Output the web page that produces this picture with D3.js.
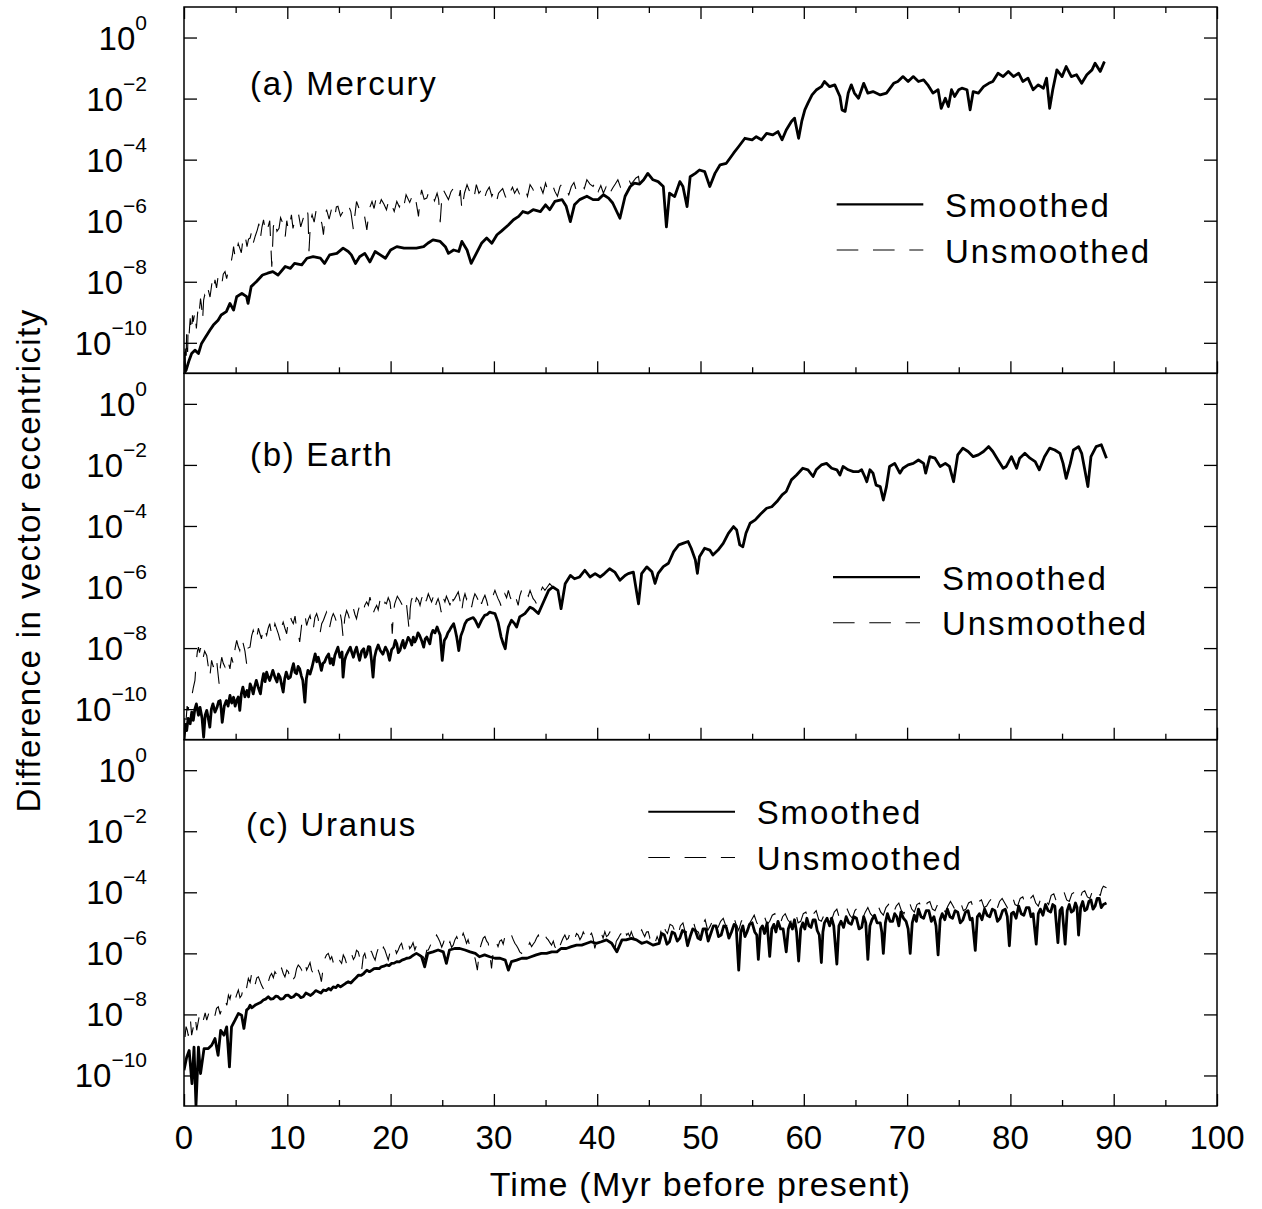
<!DOCTYPE html>
<html><head><meta charset="utf-8">
<script src="https://cdn.jsdelivr.net/npm/d3@7"></script>
<style>
html,body{margin:0;padding:0;background:#fff;}
svg{display:block;font-family:"Liberation Sans",Arial,Helvetica,sans-serif;}
</style></head><body>
<svg id="chart" width="1262" height="1209"></svg>
<script>
// ---------- tick labels / texts ----------
const xTickValues = [0,10,20,30,40,50,60,70,80,90,100];
const xMinorTickValues = [5,15,25,35,45,55,65,75,85,95];
const yTickExponents = [0,-2,-4,-6,-8,-10];
const yDomain = [1e-11, 1e1];
const panelLabels = ["(a) Mercury","(b) Earth","(c) Uranus"];
const legendLabels = ["Smoothed","Unsmoothed"];
const xTitle = "Time (Myr before present)";
const yTitle = "Difference in vector eccentricity";

// ---------- data: [time (Myr), log10(difference)] ----------
const mercurySmoothed = [[0,-11.0],[0.2,-10.9],[0.5,-10.57],[0.74,-10.35],[1.06,-10.24],[1.4,-10.35],[1.7,-10.02],[2.0,-9.86],[2.5,-9.59],[2.84,-9.42],[3.3,-9.26],[3.6,-9.09],[4.1,-8.98],[4.45,-8.71],[4.8,-8.93],[5.1,-8.49],[5.6,-8.38],[6.06,-8.49],[6.2,-8.71],[6.5,-8.16],[7.0,-8.0],[7.6,-7.78],[8.1,-7.72],[8.6,-7.67],[9.1,-7.78],[9.8,-7.50],[10.3,-7.56],[10.7,-7.40],[11.4,-7.45],[11.9,-7.23],[12.5,-7.18],[13.2,-7.23],[13.6,-7.40],[14.1,-7.12],[14.8,-7.07],[15.4,-6.90],[15.9,-7.01],[16.2,-7.12],[16.6,-7.40],[17.0,-7.18],[17.5,-7.07],[18.0,-7.35],[18.5,-7.01],[19.0,-7.12],[19.5,-7.23],[20.0,-6.96],[20.6,-6.85],[21.3,-6.90],[21.9,-6.90],[22.5,-6.90],[23.2,-6.85],[23.6,-6.74],[24.1,-6.63],[24.8,-6.68],[25.3,-6.85],[25.6,-7.07],[26.1,-6.96],[26.6,-7.01],[26.9,-6.68],[27.4,-6.96],[27.8,-7.40],[28.3,-7.07],[28.8,-6.74],[29.3,-6.57],[29.8,-6.74],[30.3,-6.46],[30.7,-6.35],[31.4,-6.14],[31.9,-5.97],[32.4,-5.86],[32.8,-5.70],[33.3,-5.75],[33.8,-5.64],[34.5,-5.70],[35.0,-5.48],[35.4,-5.64],[35.9,-5.37],[36.6,-5.31],[37.0,-5.53],[37.4,-6.03],[37.8,-5.48],[38.3,-5.31],[39.0,-5.20],[39.6,-5.31],[40.1,-5.31],[40.6,-5.15],[41.1,-5.26],[41.5,-5.42],[42.2,-5.92],[42.7,-5.20],[43.2,-4.88],[43.6,-4.77],[44.1,-4.80],[44.5,-4.66],[44.9,-4.45],[45.4,-4.66],[45.9,-4.72],[46.4,-4.88],[46.7,-6.20],[47.0,-5.10],[47.5,-5.21],[48.0,-4.72],[48.3,-4.88],[48.7,-5.54],[49.0,-4.56],[49.5,-4.45],[49.9,-4.34],[50.4,-4.39],[50.9,-4.88],[51.4,-4.45],[51.9,-4.17],[52.5,-4.12],[53.2,-3.79],[53.7,-3.57],[54.3,-3.30],[55.0,-3.35],[55.4,-3.25],[55.9,-3.35],[56.4,-3.14],[57.0,-3.19],[57.5,-3.08],[57.9,-3.35],[58.3,-3.03],[58.8,-2.75],[59.1,-2.64],[59.5,-3.30],[59.8,-2.75],[60.1,-2.37],[60.4,-2.15],[60.8,-1.88],[61.2,-1.72],[61.7,-1.61],[62.0,-1.44],[62.5,-1.61],[63.0,-1.55],[63.5,-1.93],[63.7,-2.37],[64.0,-2.42],[64.3,-1.82],[64.6,-1.55],[64.9,-1.82],[65.3,-1.99],[65.8,-1.50],[66.2,-1.82],[66.7,-1.77],[67.4,-1.88],[68.0,-1.82],[68.7,-1.50],[69.1,-1.44],[69.6,-1.28],[70.1,-1.44],[70.6,-1.28],[71.1,-1.44],[71.6,-1.39],[72.0,-1.55],[72.5,-1.82],[73.0,-1.71],[73.3,-2.32],[73.7,-1.99],[74.0,-2.26],[74.3,-1.71],[74.6,-1.93],[75.0,-1.71],[75.3,-1.66],[75.8,-1.71],[76.1,-2.37],[76.4,-1.77],[76.9,-1.82],[77.4,-1.61],[77.9,-1.50],[78.3,-1.44],[78.8,-1.17],[79.3,-1.28],[79.8,-1.11],[80.3,-1.28],[80.8,-1.17],[81.2,-1.44],[81.7,-1.33],[82.2,-1.71],[82.7,-1.55],[83.2,-1.66],[83.5,-1.33],[83.8,-2.32],[84.1,-1.71],[84.5,-1.06],[85.0,-1.28],[85.4,-0.95],[85.9,-1.28],[86.4,-1.22],[86.9,-1.50],[87.4,-1.22],[87.9,-1.06],[88.2,-0.84],[88.7,-1.11],[89.1,-0.79]];

const mercuryUnsmoothedEarly = [[0,-11.0],[0.05,-10.2],[0.1,-10.0],[0.15,-10.9],[0.2,-10.8],[0.25,-9.7],[0.3,-9.9],[0.35,-10.3],[0.4,-9.48],[0.5,-9.7],[0.6,-9.2],[0.67,-9.45],[0.74,-9.64],[0.82,-9.1],[0.9,-9.31],[1.05,-9.0],[1.2,-9.53],[1.3,-9.1],[1.4,-8.71],[1.5,-8.9],[1.6,-8.55],[1.7,-8.8],[1.8,-9.26],[1.9,-8.6],[2.0,-8.44],[2.17,-8.6],[2.35,-8.27],[2.52,-8.5],[2.7,-8.05],[2.85,-8.3],[3.0,-7.94],[3.15,-8.2],[3.3,-7.83],[3.47,-7.95],[3.65,-8.11],[3.8,-7.75],[3.97,-7.67],[4.13,-7.9],[4.3,-7.61],[4.45,-7.45],[4.6,-7.29],[4.7,-7.1],[4.8,-6.85],[4.95,-7.2],[5.1,-7.01],[5.25,-6.75],[5.4,-6.90],[5.55,-7.05],[5.7,-6.63],[5.9,-6.45],[6.1,-6.85],[6.25,-6.6],[6.4,-6.57],[6.55,-6.35],[6.7,-6.74],[6.9,-6.5],[7.1,-6.30],[7.25,-6.1],[7.4,-6.57],[7.55,-6.2],[7.7,-5.97],[7.9,-6.4],[8.1,-6.25],[8.3,-6.0],[8.5,-7.51],[8.65,-6.2],[8.8,-5.97],[9.0,-6.35],[9.2,-6.25],[9.35,-5.9],[9.5,-6.03],[9.65,-6.3],[9.8,-6.52],[9.95,-6.0],[10.1,-6.30],[10.25,-6.1],[10.4,-5.81],[10.55,-6.25],[10.7,-6.03],[10.9,-5.75],[11.1,-5.81],[11.3,-6.2],[11.5,-5.97],[11.7,-5.75],[11.9,-5.59],[12.0,-5.8],[12.1,-7.0],[12.25,-6.0],[12.4,-5.81],[12.6,-6.05],[12.8,-5.64],[13.0,-5.8],[13.2,-5.92],[13.35,-6.1],[13.5,-6.46],[13.65,-5.9],[13.8,-5.64],[14.05,-5.95],[14.3,-5.59],[14.45,-5.75],[14.6,-5.86],[14.75,-5.55],[14.9,-5.53],[15.15,-5.85],[15.4,-5.70],[15.65,-5.45],[15.9,-5.48],[16.15,-5.7],[16.4,-6.30],[16.55,-5.8],[16.7,-5.37],[16.95,-5.6],[17.2,-5.53],[17.45,-5.8],[17.7,-6.30],[17.95,-5.6],[18.2,-5.37],[18.4,-5.6],[18.6,-5.26],[18.85,-5.55],[19.1,-5.31],[19.35,-5.45],[19.6,-5.64],[19.85,-5.3],[20.1,-5.48],[20.35,-5.7],[20.6,-5.37],[20.85,-5.55],[21.1,-5.31],[21.3,-5.5],[21.5,-5.15],[21.85,-5.4],[22.2,-5.10],[22.45,-5.35],[22.7,-5.86],[22.85,-5.3],[23.0,-4.99],[23.25,-5.3],[23.5,-5.26],[23.75,-5.0],[24.0,-5.10],[24.25,-5.35],[24.5,-5.10],[24.65,-5.3],[24.8,-6.05],[24.95,-5.3],[25.1,-4.99],[25.35,-5.15],[25.6,-5.31],[25.85,-5.05],[26.1,-4.93],[26.35,-5.15],[26.6,-5.26],[26.75,-5.0],[26.9,-5.64],[27.15,-5.1],[27.4,-4.82],[27.6,-5.0],[27.8,-5.10],[28.05,-5.3],[28.3,-4.82],[28.55,-5.1],[28.8,-4.99],[29.05,-5.3],[29.3,-5.04],[29.55,-4.9],[29.8,-5.20],[30.05,-5.0],[30.3,-5.31],[30.45,-5.1],[30.6,-5.04],[30.85,-4.95],[31.1,-5.20],[31.35,-5.35],[31.6,-5.04],[31.8,-4.9],[32.0,-5.10],[32.25,-4.95],[32.5,-5.15],[32.75,-5.05],[33.0,-4.93],[33.25,-5.2],[33.5,-4.82],[33.75,-4.95],[34.0,-5.15],[34.25,-4.95],[34.5,-4.88],[34.75,-5.1],[35.0,-4.77],[35.2,-5.0],[35.4,-4.93],[35.65,-4.8],[35.9,-5.04],[36.15,-5.2],[36.4,-4.88],[36.7,-4.75],[37.0,-4.99],[37.25,-5.15],[37.5,-4.88],[37.75,-4.75],[38.0,-5.04],[38.25,-4.9],[38.5,-4.82],[38.75,-4.95],[39.0,-4.66],[39.3,-4.8],[39.6,-4.88],[39.85,-4.7],[40.1,-5.04],[40.35,-4.85],[40.6,-5.10],[40.85,-4.9],[41.1,-5.20],[41.3,-5.05],[41.5,-4.93],[41.75,-4.8],[42.0,-4.66],[42.25,-4.9],[42.5,-4.77],[42.75,-4.65],[43.0,-4.60],[43.25,-4.8],[43.5,-4.71],[43.75,-4.6],[44.0,-4.55]];

const earthSmoothed = [[0,-11.0],[0.13,-10.5],[0.26,-10.70],[0.4,-10.3],[0.6,-10.48],[0.75,-10.1],[0.9,-10.37],[1.05,-10.0],[1.2,-9.83],[1.4,-10.2],[1.55,-9.94],[1.75,-10.3],[1.9,-10.92],[2.05,-10.2],[2.2,-10.04],[2.35,-10.3],[2.5,-10.59],[2.65,-10.0],[2.8,-9.83],[3.0,-10.1],[3.2,-9.94],[3.35,-9.75],[3.5,-9.72],[3.6,-10.0],[3.7,-10.43],[3.9,-9.9],[4.1,-9.72],[4.27,-9.9],[4.45,-9.55],[4.62,-9.8],[4.8,-9.61],[4.95,-9.9],[5.1,-9.72],[5.25,-9.6],[5.4,-10.04],[5.55,-9.5],[5.7,-9.28],[5.9,-9.6],[6.1,-9.39],[6.25,-9.6],[6.4,-9.17],[6.55,-9.3],[6.7,-9.50],[6.85,-9.25],[7.0,-9.06],[7.2,-9.3],[7.4,-9.50],[7.55,-9.1],[7.7,-8.84],[7.85,-9.1],[8.0,-8.79],[8.15,-8.95],[8.3,-9.06],[8.45,-8.9],[8.6,-8.73],[8.8,-8.95],[9.0,-9.11],[9.15,-8.85],[9.3,-8.95],[9.45,-9.2],[9.6,-9.44],[9.75,-9.0],[9.9,-8.79],[10.1,-9.0],[10.3,-8.95],[10.45,-8.7],[10.6,-8.51],[10.75,-8.8],[10.9,-8.84],[11.05,-8.6],[11.2,-8.68],[11.35,-8.9],[11.5,-9.06],[11.6,-9.4],[11.7,-9.77],[11.85,-9.0],[12.0,-8.73],[12.2,-8.85],[12.4,-8.62],[12.55,-8.4],[12.7,-8.19],[12.85,-8.45],[13.0,-8.30],[13.15,-8.5],[13.3,-8.73],[13.45,-8.5],[13.6,-8.46],[13.8,-8.3],[14.0,-8.19],[14.15,-8.5],[14.3,-8.35],[14.45,-8.55],[14.6,-8.24],[14.75,-8.1],[14.9,-7.97],[15.1,-8.3],[15.3,-8.13],[15.35,-8.6],[15.4,-8.95],[15.55,-8.4],[15.7,-8.24],[15.9,-8.1],[16.1,-7.97],[16.25,-8.15],[16.4,-8.30],[16.55,-8.1],[16.7,-7.97],[16.85,-8.2],[17.0,-8.40],[17.2,-8.1],[17.4,-8.02],[17.55,-8.3],[17.7,-8.19],[17.85,-7.95],[18.0,-7.97],[18.15,-8.4],[18.3,-8.95],[18.45,-8.3],[18.6,-8.08],[18.8,-7.9],[19.0,-8.08],[19.25,-8.2],[19.5,-7.97],[19.7,-8.1],[19.9,-8.40],[20.1,-8.05],[20.3,-7.97],[20.45,-7.75],[20.6,-7.86],[20.75,-8.15],[20.9,-8.08],[21.05,-7.9],[21.2,-7.75],[21.35,-8.0],[21.5,-7.86],[21.7,-7.65],[21.9,-7.75],[22.05,-7.9],[22.2,-7.64],[22.35,-7.8],[22.5,-7.69],[22.65,-7.5],[22.8,-7.58],[23.0,-7.75],[23.2,-7.97],[23.35,-7.7],[23.5,-7.64],[23.65,-7.75],[23.8,-7.86],[23.95,-7.55],[24.1,-7.42],[24.3,-7.5],[24.5,-7.31],[24.65,-7.45],[24.8,-7.58],[25.0,-8.40],[25.2,-7.75],[25.4,-7.64],[25.55,-7.5],[25.7,-7.42],[25.9,-7.3],[26.1,-7.20],[26.25,-7.4],[26.4,-7.64],[26.6,-8.08],[26.8,-7.6],[27.0,-7.42],[27.2,-7.2],[27.4,-7.09],[27.7,-7.04],[28.0,-7.0],[28.2,-7.09],[28.5,-7.31],[28.8,-7.09],[29.1,-6.93],[29.35,-6.9],[29.6,-6.82],[29.85,-6.85],[30.1,-6.87],[30.4,-7.15],[30.7,-7.64],[30.9,-7.85],[31.1,-8.02],[31.25,-7.6],[31.4,-7.31],[31.7,-7.09],[32.0,-7.2],[32.2,-7.31],[32.5,-6.98],[33.0,-6.87],[33.5,-6.66],[33.8,-6.71],[34.3,-6.87],[34.8,-6.49],[35.3,-6.11],[35.7,-6.00],[36.2,-6.11],[36.5,-6.71],[36.9,-5.89],[37.4,-5.62],[37.8,-5.73],[38.3,-5.67],[38.8,-5.45],[39.3,-5.67],[39.8,-5.56],[40.3,-5.67],[40.7,-5.56],[41.2,-5.40],[41.7,-5.51],[42.2,-5.78],[42.7,-5.62],[43.0,-5.56],[43.5,-5.51],[44.0,-6.55],[44.3,-5.56],[44.8,-5.34],[45.3,-5.50],[45.6,-5.88],[45.9,-5.55],[46.4,-5.33],[46.9,-5.22],[47.4,-4.84],[47.9,-4.62],[48.3,-4.57],[48.8,-4.51],[49.1,-4.73],[49.5,-5.11],[49.7,-5.55],[49.9,-5.01],[50.4,-4.73],[50.9,-4.79],[51.2,-4.95],[51.7,-4.79],[52.2,-4.57],[52.7,-4.24],[53.2,-4.02],[53.5,-4.13],[53.8,-4.62],[54.1,-4.68],[54.4,-4.24],[54.8,-3.91],[55.3,-3.80],[55.6,-3.69],[55.9,-3.58],[56.4,-3.42],[56.9,-3.37],[57.4,-3.20],[57.9,-2.98],[58.3,-2.87],[58.8,-2.49],[59.3,-2.33],[59.9,-2.11],[60.4,-2.16],[60.9,-2.38],[61.2,-2.16],[61.7,-2.00],[62.2,-1.95],[62.7,-2.11],[63.2,-2.16],[63.5,-2.33],[63.8,-2.05],[64.3,-2.16],[64.8,-2.22],[65.3,-2.22],[65.6,-2.16],[65.9,-2.38],[66.1,-2.55],[66.4,-2.16],[66.7,-2.27],[67.0,-2.66],[67.4,-2.71],[67.7,-3.15],[68.0,-2.71],[68.3,-2.05],[68.8,-1.95],[69.3,-2.27],[69.6,-2.11],[70.1,-2.00],[70.6,-1.95],[71.1,-1.84],[71.6,-1.95],[71.8,-2.27],[72.2,-1.73],[72.7,-1.78],[73.2,-2.05],[73.7,-1.95],[74.1,-2.05],[74.5,-2.55],[74.9,-1.67],[75.4,-1.45],[75.9,-1.56],[76.4,-1.73],[76.9,-1.67],[77.4,-1.56],[77.9,-1.40],[78.3,-1.56],[78.8,-1.84],[79.3,-2.11],[79.6,-2.05],[80.1,-1.73],[80.6,-2.11],[80.9,-1.78],[81.4,-1.62],[81.9,-1.78],[82.4,-1.89],[82.8,-2.16],[83.3,-1.73],[83.8,-1.45],[84.3,-1.51],[84.8,-1.62],[85.1,-1.95],[85.4,-2.44],[85.8,-1.95],[86.1,-1.51],[86.6,-1.40],[86.9,-1.62],[87.2,-2.16],[87.5,-2.71],[87.8,-1.73],[88.3,-1.40],[88.8,-1.34],[89.3,-1.78]];

const earthUnsmoothedEarly = [[0,-11.0],[0.1,-10.1],[0.2,-10.37],[0.3,-9.9],[0.4,-10.04],[0.55,-9.7],[0.74,-9.61],[0.9,-9.3],[1.06,-9.06],[1.13,-8.7],[1.2,-8.40],[1.3,-8.1],[1.4,-7.97],[1.5,-8.15],[1.6,-8.0],[1.7,-8.2],[1.8,-8.40],[2.0,-8.1],[2.2,-8.24],[2.35,-8.6],[2.5,-8.95],[2.67,-8.4],[2.84,-8.62],[3.0,-8.3],[3.16,-8.40],[3.28,-8.8],[3.4,-9.17],[3.52,-8.6],[3.65,-8.30],[3.8,-8.5],[3.97,-8.62],[4.2,-8.35],[4.45,-8.68],[4.6,-8.3],[4.77,-8.51],[4.95,-8.0],[5.1,-7.75],[5.25,-7.95],[5.4,-8.08],[5.57,-7.7],[5.74,-7.86],[5.9,-8.1],[6.06,-8.51],[6.2,-8.0],[6.39,-7.97],[6.55,-7.6],[6.7,-7.42],[6.85,-7.6],[7.0,-7.75],[7.2,-7.35],[7.35,-7.53],[7.5,-7.7],[7.68,-7.31],[7.85,-7.45],[8.0,-7.58],[8.15,-7.35],[8.3,-7.20],[8.5,-7.6],[8.65,-7.48],[8.8,-7.2],[8.97,-7.37],[9.15,-7.55],[9.3,-7.75],[9.45,-7.3],[9.6,-7.15],[9.77,-7.35],[9.94,-7.53],[10.1,-7.1],[10.26,-6.93],[10.42,-7.1],[10.58,-7.20],[10.75,-6.95],[10.9,-7.37],[11.05,-7.5],[11.2,-7.80],[11.4,-7.2],[11.55,-7.04],[11.7,-6.9],[11.87,-7.26],[12.05,-7.05],[12.2,-6.93],[12.35,-7.2],[12.5,-7.42],[12.67,-7.0],[12.84,-6.87],[13.0,-7.05],[13.16,-7.53],[13.33,-7.2],[13.5,-7.09],[13.65,-6.95],[13.8,-6.82],[13.95,-7.05],[14.1,-7.31],[14.3,-7.0],[14.45,-6.87],[14.6,-6.98],[14.77,-7.15],[14.95,-6.95],[15.1,-6.82],[15.25,-7.1],[15.4,-7.64],[15.57,-7.0],[15.74,-6.77],[15.9,-6.9],[16.06,-7.09],[16.23,-6.85],[16.4,-6.71],[16.55,-6.9],[16.7,-7.04],[16.85,-6.8],[17.0,-6.60],[17.2,-6.7],[17.35,-6.82],[17.5,-6.6],[17.68,-6.49],[17.85,-6.6],[18.0,-6.33],[18.15,-6.55],[18.3,-6.87],[18.5,-6.7],[18.65,-6.60],[18.8,-6.75],[18.97,-6.44],[19.15,-6.55],[19.3,-6.71],[19.45,-6.5],[19.6,-6.55],[19.77,-6.35],[19.94,-6.49],[20.05,-6.8],[20.16,-7.53],[20.28,-6.8],[20.4,-6.55],[20.65,-6.3],[20.9,-6.44],[21.15,-6.6],[21.4,-6.38],[21.55,-6.6],[21.7,-7.09],[21.8,-7.42],[21.9,-6.7],[22.0,-6.44],[22.17,-6.3],[22.35,-6.60],[22.5,-6.35],[22.7,-6.44],[22.85,-6.6],[23.0,-6.38],[23.15,-6.25],[23.3,-6.55],[23.5,-6.4],[23.65,-6.22],[23.8,-6.35],[23.97,-6.49],[24.15,-6.3],[24.3,-6.66],[24.45,-6.5],[24.6,-6.38],[24.75,-6.55],[24.9,-6.82],[25.1,-6.35],[25.26,-6.49],[25.4,-6.3],[25.58,-6.44],[25.75,-6.6],[25.9,-6.22],[26.05,-6.45],[26.2,-6.38],[26.4,-6.25],[26.55,-6.16],[26.7,-6.4],[26.87,-6.82],[27.05,-6.4],[27.2,-6.22],[27.35,-6.4],[27.5,-6.27],[27.7,-6.4],[27.84,-6.66],[28.0,-6.4],[28.16,-6.22],[28.3,-6.3],[28.5,-6.44],[28.65,-6.25],[28.8,-6.55],[28.95,-6.4],[29.13,-6.27],[29.3,-6.45],[29.45,-6.66],[29.6,-6.45],[29.77,-6.38],[29.95,-6.25],[30.1,-6.11],[30.25,-6.25],[30.4,-6.38],[30.57,-6.5],[30.74,-6.66],[30.9,-6.4],[31.06,-6.22],[31.23,-6.35],[31.4,-6.11],[31.55,-6.3],[31.7,-6.44],[31.85,-6.3],[32.0,-6.22],[32.17,-6.4],[32.35,-6.60],[32.5,-6.3],[32.68,-6.11],[32.9,-6.35],[33.16,-6.22],[33.33,-6.3],[33.5,-6.11],[33.65,-6.25],[33.8,-6.38],[33.97,-6.45],[34.13,-6.55],[34.3,-6.35],[34.45,-6.22],[34.7,-6.0],[34.94,-6.11],[35.17,-6.0],[35.4,-5.89]];

const uranusSmoothed = [[0,-9.83],[0.26,-9.40],[0.5,-9.18],[0.77,-10.27],[0.97,-9.07],[1.16,-10.98],[1.4,-9.07],[1.6,-9.94],[1.94,-9.12],[2.35,-9.12],[2.68,-9.01],[3.0,-8.79],[3.3,-9.34],[3.55,-8.52],[3.87,-8.68],[4.13,-8.41],[4.4,-9.72],[4.6,-8.41],[4.94,-8.19],[5.26,-7.97],[5.58,-8.03],[5.8,-8.46],[6.06,-7.86],[6.25,-7.8],[6.4,-7.70],[6.55,-7.78],[6.7,-7.75],[6.95,-7.68],[7.2,-7.64],[7.45,-7.6],[7.68,-7.53],[7.9,-7.5],[8.16,-7.42],[8.4,-7.5],[8.65,-7.48],[8.9,-7.4],[9.1,-7.42],[9.35,-7.5],[9.6,-7.48],[9.85,-7.38],[10.1,-7.37],[10.35,-7.45],[10.6,-7.42],[10.85,-7.33],[11.1,-7.37],[11.3,-7.45],[11.55,-7.42],[11.8,-7.3],[12.03,-7.34],[12.25,-7.38],[12.5,-7.31],[12.75,-7.22],[13.0,-7.26],[13.25,-7.3],[13.5,-7.20],[13.75,-7.22],[14.0,-7.15],[14.2,-7.2],[14.45,-7.10],[14.7,-7.12],[14.9,-7.04],[15.15,-7.1],[15.4,-7.04],[15.65,-6.98],[15.9,-6.93],[16.15,-6.97],[16.4,-6.88],[16.65,-6.8],[16.9,-6.71],[17.15,-6.72],[17.4,-6.66],[17.55,-6.6],[17.7,-6.55],[17.95,-6.6],[18.2,-6.55],[18.4,-6.5],[18.65,-6.49],[18.9,-6.5],[19.1,-6.44],[19.35,-6.42],[19.6,-6.38],[19.85,-6.4],[20.1,-6.33],[20.35,-6.32],[20.6,-6.27],[20.85,-6.28],[21.1,-6.22],[21.3,-6.2],[21.55,-6.16],[21.8,-6.15],[22.0,-6.11],[22.25,-6.05],[22.5,-6.00],[22.75,-6.05],[23.0,-6.11],[23.3,-6.44],[23.6,-6.00],[24.1,-5.95],[24.6,-5.89],[25.1,-5.95],[25.4,-6.33],[25.7,-5.89],[26.2,-5.84],[26.7,-5.84],[27.2,-5.89],[27.7,-5.95],[28.2,-6.00],[28.6,-6.11],[29.1,-6.05],[29.6,-6.11],[30.1,-6.16],[30.6,-6.16],[31.1,-6.22],[31.4,-6.55],[31.7,-6.27],[32.2,-6.22],[32.7,-6.16],[33.2,-6.16],[33.6,-6.11],[34.1,-6.05],[34.6,-6.00],[35.1,-6.00],[35.6,-5.95],[36.1,-5.95],[36.5,-5.84],[37.0,-5.84],[37.5,-5.78],[38.0,-5.73],[38.5,-5.73],[39.0,-5.67],[39.4,-5.62],[39.9,-5.67],[40.4,-5.62],[40.9,-5.56],[41.4,-5.67],[41.9,-5.95],[42.4,-5.56],[42.8,-5.56],[43.3,-5.51],[43.8,-5.56],[44.3,-5.67],[44.8,-5.62],[45.4,-5.73],[46.0,-5.67],[46.25,-5.35],[46.5,-5.40],[46.75,-5.7],[47.0,-5.62],[47.25,-5.3],[47.5,-5.35],[47.75,-5.6],[48.0,-5.50],[48.25,-5.25],[48.5,-5.30],[48.75,-5.75],[49.0,-5.45],[49.25,-5.2],[49.5,-5.25],[49.75,-5.5],[50.0,-5.55],[50.25,-5.2],[50.5,-5.20],[50.75,-5.6],[51.0,-5.35],[51.25,-5.1],[51.5,-5.10],[51.75,-5.45],[52.0,-5.40],[52.25,-5.1],[52.5,-5.15],[52.75,-5.5],[53.0,-5.30],[53.25,-5.05],[53.45,-5.1],[53.7,-6.55],[53.9,-5.3],[54.1,-5.10],[54.3,-5.45],[54.5,-5.30],[54.75,-5.05],[55.0,-5.00],[55.25,-5.3],[55.45,-5.40],[55.6,-6.20],[55.8,-5.2],[56.0,-5.10],[56.2,-5.35],[56.45,-5.00],[56.7,-6.10],[56.9,-5.2],[57.1,-5.05],[57.3,-5.3],[57.5,-4.95],[57.75,-5.2],[58.0,-5.20],[58.3,-5.95],[58.5,-5.2],[58.7,-5.00],[58.9,-5.2],[59.1,-4.90],[59.3,-5.3],[59.5,-6.25],[59.7,-5.2],[59.9,-5.00],[60.1,-5.2],[60.3,-4.85],[60.5,-5.1],[60.7,-5.15],[60.9,-4.9],[61.1,-4.90],[61.3,-5.25],[61.5,-5.4],[61.7,-6.30],[61.85,-5.3],[62.0,-5.00],[62.25,-4.85],[62.5,-5.1],[62.7,-4.85],[62.9,-5.10],[63.2,-6.35],[63.4,-5.1],[63.6,-4.95],[63.85,-5.15],[64.1,-4.80],[64.35,-5.0],[64.6,-5.05],[64.85,-4.8],[65.1,-4.85],[65.35,-5.2],[65.6,-5.15],[65.8,-4.8],[66.0,-5.0],[66.2,-6.20],[66.4,-5.1],[66.6,-4.90],[66.85,-4.75],[67.1,-5.0],[67.4,-5.00],[67.55,-5.3],[67.7,-6.00],[67.9,-5.0],[68.1,-4.70],[68.35,-4.95],[68.6,-4.95],[68.8,-4.7],[69.0,-4.80],[69.2,-5.1],[69.4,-4.65],[69.65,-4.85],[69.9,-4.95],[70.1,-5.2],[70.3,-6.00],[70.5,-5.0],[70.7,-4.75],[70.9,-4.95],[71.1,-4.55],[71.35,-4.8],[71.6,-4.85],[71.85,-4.6],[72.1,-4.60],[72.35,-4.95],[72.6,-4.80],[72.8,-5.1],[73.0,-6.05],[73.2,-4.9],[73.4,-4.70],[73.65,-4.9],[73.9,-4.55],[74.15,-4.8],[74.4,-4.85],[74.65,-4.6],[74.9,-4.65],[75.15,-5.0],[75.4,-4.90],[75.65,-4.65],[75.9,-4.60],[76.1,-4.9],[76.3,-4.85],[76.6,-5.90],[76.8,-4.8],[77.0,-4.70],[77.25,-4.9],[77.5,-4.55],[77.75,-4.75],[78.0,-4.80],[78.25,-4.55],[78.5,-4.60],[78.75,-4.95],[79.0,-4.85],[79.25,-4.6],[79.5,-4.55],[79.7,-4.8],[79.9,-5.75],[80.1,-4.7],[80.3,-4.65],[80.55,-4.85],[80.8,-4.45],[81.05,-4.7],[81.3,-4.75],[81.55,-4.5],[81.8,-4.50],[82.0,-4.8],[82.2,-4.70],[82.5,-5.70],[82.7,-4.7],[82.9,-4.55],[83.15,-4.75],[83.4,-4.40],[83.65,-4.6],[83.9,-4.65],[84.1,-4.4],[84.3,-4.45],[84.6,-5.65],[84.8,-4.6],[85.0,-4.50],[85.3,-5.70],[85.5,-4.6],[85.7,-4.40],[85.9,-4.65],[86.1,-4.60],[86.3,-4.35],[86.45,-4.5],[86.6,-5.40],[86.8,-4.5],[87.0,-4.30],[87.2,-4.6],[87.4,-4.55],[87.6,-4.3],[87.8,-4.25],[88.0,-4.55],[88.2,-4.45],[88.4,-4.2],[88.6,-4.20],[88.8,-4.5],[89.0,-4.40],[89.3,-4.35]];

const uranusUnsmoothed = [[0.1,-8.74],[0.2,-8.4],[0.32,-8.52],[0.42,-8.7],[0.52,-8.41],[0.63,-8.2],[0.74,-8.68],[0.85,-8.5],[0.97,-8.30],[1.1,-8.1],[1.23,-8.52],[1.4,-8.2],[1.55,-7.92],[1.7,-8.0],[1.87,-8.19],[2.05,-7.95],[2.2,-8.19],[2.45,-7.9],[2.68,-7.86],[2.85,-8.1],[3.0,-8.03],[3.15,-7.8],[3.32,-7.75],[3.5,-8.0],[3.65,-7.81],[3.8,-7.6],[3.97,-7.53],[4.15,-7.7],[4.3,-7.37],[4.45,-7.5],[4.6,-7.26],[4.75,-7.3],[4.94,-7.53],[5.1,-7.35],[5.26,-7.20],[5.42,-7.45],[5.58,-7.37],[5.75,-7.1],[5.9,-6.99],[6.05,-7.15],[6.23,-6.82],[6.4,-6.95],[6.55,-6.66],[6.7,-6.85],[6.87,-7.04],[7.05,-6.8],[7.2,-6.77],[7.35,-6.9],[7.5,-7.04],[7.67,-7.15],[7.84,-7.26],[8.0,-7.05],[8.16,-6.93],[8.32,-6.75],[8.48,-6.66],[8.65,-6.8],[8.8,-6.60],[8.97,-6.7],[9.13,-6.82],[9.3,-6.6],[9.45,-6.49],[9.6,-6.65],[9.77,-6.77],[9.95,-6.55],[10.1,-6.60],[10.25,-6.8],[10.4,-6.99],[10.57,-6.85],[10.74,-6.77],[10.9,-6.5],[11.06,-6.38],[11.23,-6.45],[11.4,-6.55],[11.55,-6.35],[11.7,-6.27],[11.87,-6.55],[12.03,-6.44],[12.2,-6.3],[12.35,-6.55],[12.5,-6.65],[12.68,-6.71],[12.85,-6.45],[13.0,-6.55],[13.15,-6.7],[13.3,-6.93],[13.5,-6.4],[13.65,-6.16],[13.8,-6.05],[13.97,-6.00],[14.15,-6.2],[14.3,-6.11],[14.45,-6.3],[14.6,-6.27],[14.77,-6.05],[14.94,-6.11],[15.1,-6.25],[15.26,-6.33],[15.42,-6.05],[15.58,-6.16],[15.75,-6.35],[15.9,-6.27],[16.05,-6.1],[16.2,-6.00],[16.4,-6.2],[16.55,-6.11],[16.7,-5.9],[16.87,-5.95],[17.05,-6.2],[17.2,-6.55],[17.35,-6.1],[17.5,-6.00],[17.67,-6.25],[17.84,-6.11],[18.0,-5.9],[18.16,-5.95],[18.33,-6.1],[18.5,-6.22],[18.65,-6.0],[18.8,-5.84],[18.97,-6.0],[19.13,-6.05],[19.3,-5.8],[19.45,-5.89],[19.6,-6.05],[19.77,-6.22],[19.95,-5.95],[20.1,-6.00],[20.25,-5.85],[20.4,-5.78],[20.57,-6.0],[20.74,-5.89],[20.9,-5.75],[21.06,-5.67],[21.23,-5.9],[21.4,-5.84],[21.55,-5.7],[21.7,-5.62],[21.85,-5.85],[22.0,-5.78],[22.17,-5.65],[22.35,-5.89],[22.5,-5.75],[22.68,-5.73],[22.85,-5.85],[23.0,-5.95],[23.15,-6.1],[23.3,-6.22],[23.5,-5.9],[23.65,-5.89],[23.9,-5.7],[24.13,-5.78],[24.3,-5.55],[24.45,-5.40],[24.6,-5.5],[24.77,-5.62],[24.95,-5.8],[25.1,-5.67],[25.25,-5.5],[25.4,-5.51],[25.57,-5.75],[25.74,-5.62],[25.9,-5.8],[26.06,-5.73],[26.23,-5.55],[26.4,-5.45],[26.55,-5.6],[26.7,-5.40],[26.87,-5.5],[27.03,-5.34],[27.2,-5.5],[27.35,-5.67],[27.5,-5.55],[27.68,-5.78],[27.85,-5.85],[28.0,-5.95],[28.2,-6.2],[28.4,-6.55],[28.6,-5.9],[28.8,-5.67],[28.97,-5.5],[29.13,-5.45],[29.3,-5.6],[29.45,-5.67],[29.6,-6.0],[29.77,-6.49],[29.95,-5.9],[30.1,-5.84],[30.25,-5.65],[30.4,-5.78],[30.57,-5.6],[30.74,-5.56],[30.9,-5.7],[31.06,-5.45],[31.23,-5.6],[31.4,-5.56],[31.55,-5.45],[31.7,-5.40],[31.87,-5.55],[32.03,-5.67],[32.2,-5.75],[32.35,-5.84],[32.5,-5.95],[32.68,-6.00],[32.85,-5.9],[33.0,-5.84],[33.15,-5.7],[33.3,-5.78],[33.47,-5.65],[33.65,-5.78],[33.8,-5.7],[33.97,-5.62],[34.13,-5.5],[34.3,-5.40],[34.45,-5.55],[34.6,-5.51],[34.77,-5.35],[34.94,-5.40],[35.1,-5.5],[35.26,-5.56],[35.42,-5.65],[35.58,-5.73],[35.75,-5.6],[35.9,-5.78],[36.05,-5.85],[36.2,-6.00],[36.4,-5.75],[36.55,-5.62],[36.7,-5.5],[36.87,-5.40],[37.05,-5.55],[37.2,-5.51],[37.35,-5.35],[37.5,-5.45],[37.67,-5.6],[37.84,-5.51],[38.0,-5.35],[38.16,-5.40],[38.33,-5.55],[38.5,-5.45],[38.65,-5.3],[38.8,-5.40],[38.97,-5.6],[39.13,-5.51],[39.3,-5.4],[39.45,-5.34],[39.6,-5.5],[39.77,-5.84],[39.95,-5.6],[40.1,-5.56],[40.25,-5.45],[40.4,-5.34],[40.57,-5.5],[40.74,-5.29],[40.9,-5.45],[41.06,-5.40],[41.23,-5.3],[41.4,-5.45],[41.55,-5.65],[41.7,-5.89],[41.85,-5.6],[42.03,-5.51],[42.2,-5.4],[42.35,-5.34],[42.5,-5.45],[42.68,-5.23],[42.85,-5.4],[43.0,-5.34],[43.15,-5.45],[43.3,-5.29],[43.47,-5.45],[43.65,-5.56],[43.8,-5.35],[43.97,-5.40],[44.13,-5.3],[44.3,-5.23],[44.45,-5.35],[44.6,-5.45],[44.77,-5.3],[44.94,-5.29],[45.1,-5.5],[45.26,-5.40],[45.42,-5.55],[45.58,-5.67],[45.8,-5.45],[46.0,-5.62],[46.2,-5.2],[46.4,-5.0],[46.6,-5.25],[46.8,-5.35],[47.05,-5.05],[47.3,-5.1],[47.55,-5.3],[47.8,-5.45],[48.05,-5.1],[48.3,-5.0],[48.55,-5.35],[48.8,-5.2],[49.05,-5.05],[49.3,-4.95],[49.55,-5.25],[49.8,-5.3],[50.0,-5.55],[50.2,-5.05],[50.45,-4.9],[50.7,-5.25],[50.95,-5.1],[51.2,-4.9],[51.45,-5.2],[51.7,-5.15],[51.95,-4.95],[52.2,-4.85],[52.45,-5.1],[52.7,-5.05],[52.95,-4.85],[53.2,-4.8],[53.45,-5.05],[53.7,-5.25],[53.95,-4.95],[54.2,-4.85],[54.45,-5.15],[54.7,-5.05],[54.95,-4.9],[55.2,-4.75],[55.45,-5.0],[55.7,-5.1],[55.95,-4.85],[56.2,-4.8],[56.45,-5.05],[56.7,-4.95],[56.95,-4.75],[57.2,-4.7],[57.45,-4.95],[57.7,-5.05],[57.95,-4.8],[58.2,-4.7],[58.45,-4.9],[58.7,-5.0],[58.95,-4.75],[59.2,-4.65],[59.45,-5.0],[59.7,-4.95],[59.95,-4.7],[60.2,-4.65],[60.45,-4.9],[60.7,-4.85],[60.95,-4.7],[61.2,-4.6],[61.45,-4.9],[61.7,-4.95],[61.95,-4.75],[62.2,-4.6],[62.45,-4.8],[62.7,-4.9],[62.95,-4.65],[63.2,-4.55],[63.45,-4.85],[63.7,-4.8],[63.95,-4.6],[64.2,-4.55],[64.45,-4.75],[64.7,-4.85],[64.95,-4.6],[65.2,-4.5],[65.45,-4.8],[65.7,-4.85],[65.95,-4.65],[66.2,-4.5],[66.45,-4.7],[66.7,-4.8],[66.95,-4.5],[67.2,-4.45],[67.45,-4.65],[67.7,-4.75],[67.95,-4.5],[68.2,-4.4],[68.45,-4.7],[68.7,-4.65],[68.95,-4.45],[69.2,-4.35],[69.45,-4.6],[69.7,-4.7],[69.95,-4.4],[70.2,-4.3],[70.45,-4.55],[70.7,-4.65],[70.95,-4.4],[71.2,-4.35],[71.45,-4.6],[71.7,-4.55],[71.95,-4.35],[72.2,-4.3],[72.45,-4.55],[72.7,-4.6],[72.95,-4.4],[73.2,-4.3],[73.45,-4.5],[73.7,-4.65],[73.95,-4.45],[74.2,-4.3],[74.45,-4.45],[74.7,-4.6],[74.95,-4.4],[75.2,-4.35],[75.45,-4.6],[75.7,-4.55],[75.95,-4.35],[76.2,-4.3],[76.45,-4.55],[76.7,-4.5],[76.95,-4.3],[77.2,-4.25],[77.45,-4.5],[77.7,-4.45],[77.95,-4.3],[78.2,-4.2],[78.45,-4.45],[78.7,-4.55],[78.95,-4.3],[79.2,-4.2],[79.45,-4.35],[79.7,-4.5],[79.95,-4.25],[80.2,-4.15],[80.45,-4.4],[80.7,-4.45],[80.95,-4.2],[81.2,-4.15],[81.45,-4.4],[81.7,-4.4],[81.95,-4.2],[82.2,-4.1],[82.45,-4.35],[82.7,-4.45],[82.95,-4.2],[83.2,-4.1],[83.45,-4.3],[83.7,-4.4],[83.95,-4.1],[84.2,-4.05],[84.45,-4.3],[84.7,-4.3],[84.95,-4.1],[85.2,-4.0],[85.45,-4.25],[85.7,-4.3],[85.95,-4.05],[86.2,-4.0],[86.45,-4.2],[86.7,-4.25],[86.95,-4.0],[87.2,-3.95],[87.45,-4.15],[87.7,-4.2],[87.95,-3.95],[88.2,-3.85],[88.45,-4.05],[88.7,-4.1],[88.85,-3.9],[89.0,-3.8],[89.3,-3.85]];

// unsmoothed series of (a) and (b) coincide with the smoothed ones after they merge
const mercuryUnsmoothed = mercuryUnsmoothedEarly.concat(mercurySmoothed.filter(d => d[0] > 44.0));
const earthUnsmoothed = earthUnsmoothedEarly.concat(earthSmoothed.filter(d => d[0] > 35.4));

// ---------- layout ----------
const W = 1262, H = 1209;
const plotLeft = 184, plotRight = 1217, plotTop = 7, plotBottom = 1106;
const panelH = (plotBottom - plotTop) / 3;
const panelLayout = [
  {labelX: 250, labelY: 88,  legX1: 836.7, legX2: 923.3, legY: 197.3, legTextX: 945},
  {labelX: 250, labelY: 93,  legX1: 833,   legX2: 920,   legY: 203.7, legTextX: 942},
  {labelX: 246, labelY: 96,  legX1: 648.3, legX2: 735,   legY: 72.1,  legTextX: 756.7}
];
const legendGap = 45.7;
const smoothedStyle = {width: 2.8};
const unsmoothedStyle = {width: 1.1, dash: "21.6,14.7"};
const textFont = 33;

const svg = d3.select("#chart");
svg.append("rect").attr("width", W).attr("height", H).attr("fill", "#fff");

const x = d3.scaleLinear().domain([0, 100]).range([plotLeft, plotRight]);

const series = [
  {smoothed: mercurySmoothed, unsmoothed: mercuryUnsmoothed},
  {smoothed: earthSmoothed, unsmoothed: earthUnsmoothed},
  {smoothed: uranusSmoothed, unsmoothed: uranusUnsmoothed}
];

series.forEach((s, i) => {
  const top = plotTop + i * panelH, bottom = top + panelH;
  const L = panelLayout[i];
  const y = d3.scaleLog().domain(yDomain).range([bottom, top]);
  const g = svg.append("g");

  const clipId = "clip" + i;
  svg.append("clipPath").attr("id", clipId).append("rect")
    .attr("x", plotLeft).attr("y", top).attr("width", plotRight - plotLeft).attr("height", panelH);

  const line = d3.line().x(d => x(d[0])).y(d => y(Math.pow(10, d[1])));

  g.append("path").datum(s.unsmoothed).attr("clip-path", `url(#${clipId})`)
    .attr("d", line).attr("fill", "none").attr("stroke", "#000")
    .attr("stroke-width", unsmoothedStyle.width).attr("stroke-dasharray", unsmoothedStyle.dash)
    .attr("stroke-linejoin", "miter");
  g.append("path").datum(s.smoothed).attr("clip-path", `url(#${clipId})`)
    .attr("d", line).attr("fill", "none").attr("stroke", "#000")
    .attr("stroke-width", smoothedStyle.width).attr("stroke-linejoin", "round");

  // ticks
  const yTicks = yTickExponents.map(e => Math.pow(10, e));
  const styleAxis = a => { a.select(".domain").remove(); a.selectAll(".tick line").attr("stroke", "#000").attr("stroke-width", 1.3); a.selectAll("text").remove(); };
  g.append("g").attr("transform", `translate(${plotLeft},0)`)
    .call(d3.axisLeft(y).tickValues(yTicks).tickSize(-13).tickFormat("")).call(styleAxis);
  g.append("g").attr("transform", `translate(${plotRight},0)`)
    .call(d3.axisRight(y).tickValues(yTicks).tickSize(-13).tickFormat("")).call(styleAxis);
  g.append("g").attr("transform", `translate(0,${bottom})`)
    .call(d3.axisBottom(x).tickValues(xTickValues).tickSize(-12).tickFormat("")).call(styleAxis);
  g.append("g").attr("transform", `translate(0,${bottom})`)
    .call(d3.axisBottom(x).tickValues(xMinorTickValues).tickSize(-6).tickFormat("")).call(styleAxis);
  if (i === 0) {
    g.append("g").attr("transform", `translate(0,${top})`)
      .call(d3.axisTop(x).tickValues(xTickValues).tickSize(-12).tickFormat("")).call(styleAxis);
    g.append("g").attr("transform", `translate(0,${top})`)
      .call(d3.axisTop(x).tickValues(xMinorTickValues).tickSize(-6).tickFormat("")).call(styleAxis);
  }

  // y tick labels 10^n
  yTickExponents.forEach(e => {
    const t = g.append("text").attr("x", 147).attr("y", y(Math.pow(10, e)) + 12)
      .attr("text-anchor", "end").attr("font-size", textFont).attr("fill", "#000");
    t.append("tspan").text("10");
    t.append("tspan").attr("font-size", 21).attr("dy", -20).text(String(e).replace("-", "\u2212"));
  });

  // frame
  g.append("rect").attr("x", plotLeft).attr("y", top).attr("width", plotRight - plotLeft).attr("height", panelH)
    .attr("fill", "none").attr("stroke", "#000").attr("stroke-width", 1.5);

  // panel label
  g.append("text").attr("x", L.labelX).attr("y", top + L.labelY).attr("font-size", textFont)
    .attr("letter-spacing", 1.7).text(panelLabels[i]);

  // legend
  [0, 1].forEach(k => {
    const ly = top + L.legY + k * legendGap;
    g.append("line").attr("x1", L.legX1).attr("x2", L.legX2).attr("y1", ly).attr("y2", ly)
      .attr("stroke", "#000")
      .attr("stroke-width", k === 0 ? 2.2 : 1.1)
      .attr("stroke-dasharray", k === 0 ? null : unsmoothedStyle.dash);
    g.append("text").attr("x", L.legTextX).attr("y", ly + 12.5).attr("font-size", textFont)
      .attr("letter-spacing", 1.9).text(legendLabels[k]);
  });
});

// x tick labels
svg.append("g").selectAll("text").data(xTickValues).join("text")
  .attr("x", d => x(d)).attr("y", 1149).attr("text-anchor", "middle")
  .attr("font-size", textFont).text(d => d);

// axis titles
svg.append("text").attr("x", (plotLeft + plotRight) / 2).attr("y", 1196).attr("text-anchor", "middle")
  .attr("font-size", 34).attr("letter-spacing", 1.2).text(xTitle);
svg.append("text").attr("transform", `translate(40,${(plotTop + plotBottom) / 2 + 4}) rotate(-90)`)
  .attr("text-anchor", "middle").attr("font-size", textFont).attr("letter-spacing", 1.4).text(yTitle);
</script>
</body></html>
